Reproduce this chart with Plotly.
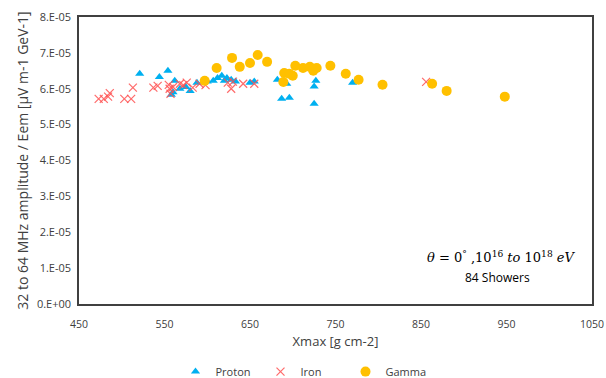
import plotly.graph_objects as go

# ---- data ----
proton_x = [521, 544, 554, 558, 562, 568, 580, 588, 600, 607, 612, 617, 620, 623, 628, 633,
            650, 655, 682, 687, 693, 696, 725, 727, 725, 770, 560, 575]
proton_y = [6.42, 6.33, 6.50, 5.83, 6.22, 6.00, 5.94, 6.17, 6.20, 6.22, 6.30, 6.36, 6.22, 6.30, 6.25, 6.20,
            6.17, 6.20, 6.25, 5.72, 6.14, 5.75, 6.06, 6.22, 5.58, 6.17, 5.90, 6.05]

iron_x = [473, 479, 484, 486, 503, 511, 513, 537, 542, 555, 556, 557, 568, 576, 583, 591,
          598, 624, 628, 630, 642, 655, 856, 560, 572]
iron_y = [5.72, 5.72, 5.78, 5.88, 5.72, 5.72, 6.03, 6.03, 6.08, 6.11, 6.00, 5.86, 6.14, 6.17, 6.03, 6.14,
          6.10, 6.17, 6.00, 6.20, 6.14, 6.14, 6.19, 6.05, 6.10]

gamma_x = [597, 611, 629, 638, 650, 659, 670, 689, 690, 696, 700, 703, 712, 720, 724, 728,
           744, 762, 777, 805, 863, 880, 948]
gamma_y = [6.22, 6.58, 6.86, 6.61, 6.72, 6.94, 6.75, 6.19, 6.44, 6.42, 6.36, 6.64, 6.58, 6.61, 6.50, 6.58,
           6.64, 6.42, 6.25, 6.11, 6.14, 5.94, 5.78]

scale = 1e-5
x_ticks = [450, 550, 650, 750, 850, 950, 1050]
y_tick_vals = [0, 1, 2, 3, 4, 5, 6, 7, 8]
y_tick_labels = ["0.E+00", "1.E-05", "2.E-05", "3.E-05", "4.E-05",
                 "5.E-05", "6.E-05", "7.E-05", "8.E-05"]

FONT = "Open Sans"
TXT = "#404040"

fig = go.Figure()
fig.add_trace(go.Scatter(
    x=proton_x, y=[v * scale for v in proton_y], mode="markers", name="Proton",
    marker=dict(symbol="triangle-up", size=8, color="#00B0F0")))
fig.add_trace(go.Scatter(
    x=iron_x, y=[v * scale for v in iron_y], mode="markers", name="Iron",
    marker=dict(symbol="x-thin", size=8, color="rgba(255,80,80,0.85)",
                line=dict(width=1.2, color="rgba(255,80,80,0.85)"))))
fig.add_trace(go.Scatter(
    x=gamma_x, y=[v * scale for v in gamma_y], mode="markers", name="Gamma",
    marker=dict(symbol="circle", size=10, color="#FFC000")))

fig.update_layout(
    width=606, height=378,
    margin=dict(l=79, r=14, t=17, b=74, autoexpand=False),
    paper_bgcolor="white", plot_bgcolor="white",
    font=dict(family=FONT, size=11, color=TXT),
    showlegend=True,
    legend=dict(orientation="h", xref="container", x=0.5, xanchor="center",
                y=-0.185, yanchor="top",
                font=dict(size=11, color=TXT), itemwidth=30, entrywidth=40,
                tracegroupgap=0),
    annotations=[
        dict(text="<i>θ</i> = 0<sup>°</sup> ,10<sup>16</sup> <i>to</i> 10<sup>18</sup> <i>eV</i>",
             x=1034, y=1.31e-5, xref="x", yref="y", xanchor="right", yanchor="middle",
             showarrow=False, font=dict(family="DejaVu Serif", size=13, color="black")),
        dict(text="84 Showers", x=940, y=0.75e-5, xref="x", yref="y",
             xanchor="center", yanchor="middle", showarrow=False,
             font=dict(family=FONT, size=12, color="black")),
    ],
)
fig.update_xaxes(range=[450, 1050], tickvals=x_ticks, showgrid=False, zeroline=False,
                 showline=True, linecolor="#404040", linewidth=1.5, mirror=True,
                 ticks="", ticklabelstandoff=10, automargin=False,
                 tickfont=dict(size=10.5),
                 title=dict(text="Xmax [g cm-2]", font=dict(size=13, color=TXT),
                            standoff=7))
fig.update_yaxes(range=[0, 8e-5], tickvals=[v * scale for v in y_tick_vals], ticktext=y_tick_labels,
                 showgrid=False, zeroline=False, automargin=False,
                 showline=True, linecolor="#404040", linewidth=1.5, mirror=True, ticks="",
                 ticklabelstandoff=4,
                 title=dict(text="32 to 64 MHz amplitude / Eem [µV m-1 GeV-1]",
                            font=dict(size=14, color=TXT), standoff=5))

# remove the browser's default 8px body margin so the figure fills the window exactly
fig.write_html("out.html", config={"displayModeBar": False},
               post_script="document.body.style.margin='0';")
